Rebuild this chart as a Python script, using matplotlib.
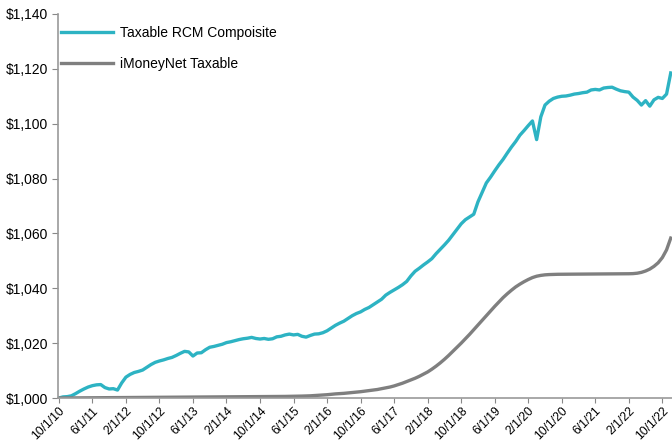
import numpy as np
import pandas as pd
import matplotlib
matplotlib.use('Agg')
import matplotlib.pyplot as plt
from matplotlib.ticker import FuncFormatter

# monthly values, 10/1/10 .. 12/1/22
dates = pd.date_range('2010-10-01', '2022-12-01', freq='MS')

rcm = [1000.0, 1000.4, 1000.5, 1000.8, 1001.6, 1002.5, 1003.3, 1004.0, 1004.5, 1004.8,
       1004.9, 1003.8, 1003.3, 1003.4, 1002.9, 1005.5, 1007.6, 1008.6, 1009.3, 1009.7,
       1010.2, 1011.2, 1012.2, 1013.0, 1013.5, 1013.9, 1014.4, 1014.8, 1015.5, 1016.3,
       1017.0, 1016.8, 1015.3, 1016.4, 1016.5, 1017.6, 1018.5, 1018.8, 1019.2, 1019.6,
       1020.2, 1020.5, 1020.9, 1021.3, 1021.6, 1021.8, 1022.1, 1021.7, 1021.5, 1021.7,
       1021.4, 1021.6, 1022.3, 1022.5, 1023.0, 1023.3, 1023.0, 1023.2, 1022.5, 1022.2,
       1022.8, 1023.3, 1023.4, 1023.8, 1024.5, 1025.5, 1026.5, 1027.3, 1028.0, 1029.0,
       1030.0, 1030.8, 1031.4, 1032.3, 1033.0, 1034.0, 1035.0, 1036.0, 1037.5, 1038.5,
       1039.4, 1040.3, 1041.3, 1042.5, 1044.5, 1046.2, 1047.3, 1048.5, 1049.6, 1050.8,
       1052.6, 1054.2, 1055.8, 1057.5, 1059.5, 1061.5, 1063.5, 1065.0, 1066.0, 1067.0,
       1071.5, 1075.0, 1078.4, 1080.5, 1082.8, 1085.0, 1087.0, 1089.3, 1091.5, 1093.5,
       1095.8, 1097.5, 1099.3, 1101.0, 1094.2, 1102.5, 1106.8, 1108.2, 1109.2, 1109.7,
       1110.0, 1110.1, 1110.4, 1110.8, 1111.0, 1111.3, 1111.5, 1112.3, 1112.5, 1112.3,
       1113.0, 1113.2, 1113.3, 1112.6, 1112.0, 1111.7, 1111.5, 1109.7, 1108.5, 1106.8,
       1108.4, 1106.4, 1108.7, 1109.6, 1109.2, 1110.8, 1118.5]

imoney = [1000.00, 1000.01, 1000.02, 1000.03, 1000.04, 1000.05, 1000.06, 1000.07, 1000.08, 1000.09,
          1000.10, 1000.11, 1000.12, 1000.13, 1000.14, 1000.15, 1000.16, 1000.17, 1000.18, 1000.19,
          1000.20, 1000.21, 1000.22, 1000.23, 1000.24, 1000.25, 1000.26, 1000.27, 1000.28, 1000.29,
          1000.30, 1000.31, 1000.32, 1000.33, 1000.34, 1000.35, 1000.36, 1000.37, 1000.38, 1000.39,
          1000.40, 1000.41, 1000.42, 1000.43, 1000.44, 1000.45, 1000.46, 1000.47, 1000.48, 1000.49,
          1000.50, 1000.52, 1000.54, 1000.56, 1000.58, 1000.60, 1000.63, 1000.66, 1000.70, 1000.75,
          1000.80, 1000.90, 1001.00, 1001.10, 1001.20, 1001.35, 1001.50, 1001.60, 1001.70, 1001.85,
          1002.00, 1002.15, 1002.3, 1002.5, 1002.7, 1002.9, 1003.1, 1003.4, 1003.7, 1004.0,
          1004.4, 1004.9, 1005.4, 1006.0, 1006.6, 1007.2, 1007.9, 1008.7, 1009.5, 1010.5,
          1011.6, 1012.8, 1014.1, 1015.5, 1017.0, 1018.5, 1020.0, 1021.6, 1023.2, 1024.9,
          1026.6, 1028.3, 1030.0, 1031.7, 1033.4, 1035.0, 1036.6, 1038.0, 1039.3, 1040.5,
          1041.5, 1042.4, 1043.2, 1043.9, 1044.4, 1044.7, 1044.9, 1045.0, 1045.05, 1045.1,
          1045.1, 1045.12, 1045.14, 1045.15, 1045.16, 1045.17, 1045.18, 1045.19, 1045.2, 1045.2,
          1045.21, 1045.22, 1045.23, 1045.24, 1045.25, 1045.27, 1045.3, 1045.35, 1045.5, 1045.8,
          1046.3, 1047.0, 1048.0, 1049.3, 1051.2, 1054.0, 1058.3]

plt.rcParams['font.family'] = ['Liberation Sans', 'DejaVu Sans']

fig = plt.figure(figsize=(6.72, 4.45), dpi=100)
ax = fig.add_axes([0.0863, 0.1056, 0.9137, 0.863])

x = np.arange(len(dates))
ax.plot(x, rcm, color='#2DB3C3', lw=2.4, label='Taxable RCM Compoisite', solid_joinstyle='round')
ax.plot(x, imoney, color='#7F7F7F', lw=2.4, label='iMoneyNet Taxable', solid_joinstyle='round')

# tick every 8 months
tick_pos = x[::8]
tick_lab = [f'{d.month}/1/{d.strftime("%y")}' for d in dates[::8]]
ax.set_xticks(tick_pos)
ax.set_xticklabels(tick_lab, rotation=45, ha='right', rotation_mode='anchor', fontsize=8.8)
ax.set_xlim(-0.2, 146.3)

ax.set_ylim(1000, 1140)
ax.set_yticks(np.arange(1000, 1141, 20))
ax.yaxis.set_major_formatter(FuncFormatter(lambda v, p: f'${v:,.0f}'))
ax.tick_params(axis='y', labelsize=10, length=4, color='#888888', pad=3)
ax.tick_params(axis='x', length=3.5, color='#888888', pad=1.5)

for s in ['top', 'right']:
    ax.spines[s].set_visible(False)
for s in ['left', 'bottom']:
    ax.spines[s].set_color('#999999')
    ax.spines[s].set_linewidth(1.2)

ax.legend(loc='upper left', bbox_to_anchor=(-0.008, 0.99), frameon=False, fontsize=10,
          handlelength=3.7, labelspacing=1.2, handletextpad=0.55, borderaxespad=0.2)

plt.savefig('out.png', dpi=100)
